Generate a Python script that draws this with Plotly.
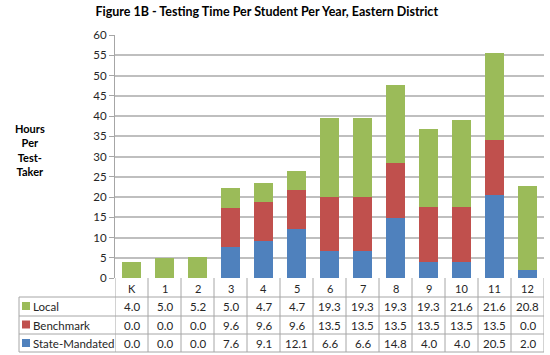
import plotly.graph_objects as go

grades = ["K", "1", "2", "3", "4", "5", "6", "7", "8", "9", "10", "11", "12"]
local = [4.0, 5.0, 5.2, 5.0, 4.7, 4.7, 19.3, 19.3, 19.3, 19.3, 21.6, 21.6, 20.8]
benchmark = [0.0, 0.0, 0.0, 9.6, 9.6, 9.6, 13.5, 13.5, 13.5, 13.5, 13.5, 13.5, 0.0]
state = [0.0, 0.0, 0.0, 7.6, 9.1, 12.1, 6.6, 6.6, 14.8, 4.0, 4.0, 20.5, 2.0]

series = [("State-Mandated", state, "#4F81BD"),
          ("Benchmark", benchmark, "#C0504D"),
          ("Local", local, "#9BBB59")]

W, H = 550, 355
L, R, T, B = 115, 544, 35, 278
FONT = "Lato"
TXT = "#262626"
GRID = "#BFBFBF"
BORDER = "#A6A6A6"

def py(p):
    return (B - p) / (B - T)

def px(p):
    return (p - L) / (R - L)

fig = go.Figure()
for name, vals, col in series:
    fig.add_bar(x=grades, y=vals, name=name, marker=dict(color=col, line=dict(width=0)), width=0.6)

shapes = []
annotations = []
row_lines = [297, 316, 334, 352]
row_centers = {"hdr": 288, "Local": 306.5, "Benchmark": 325, "State-Mandated": 343.5}
for yl in row_lines:
    shapes.append(dict(type="line", xref="paper", yref="paper", x0=px(19), x1=px(R), y0=py(yl), y1=py(yl),
                       line=dict(color=BORDER, width=1)))
shapes.append(dict(type="line", xref="paper", yref="paper", x0=px(19), x1=px(19), y0=py(297), y1=py(352),
                   line=dict(color=BORDER, width=1)))
for i in range(len(grades) + 1):
    shapes.append(dict(type="line", xref="x", yref="paper", x0=i - 0.5, x1=i - 0.5, y0=py(B), y1=py(352),
                       line=dict(color=BORDER, width=1)))

for i, g in enumerate(grades):
    annotations.append(dict(x=i, y=py(row_centers["hdr"]), xref="x", yref="paper", text=g, showarrow=False,
                            xanchor="center", yanchor="middle",
                            font=dict(family=FONT, size=11, color=TXT)))
rows = [("Local", local, "#9BBB59"), ("Benchmark", benchmark, "#C0504D"), ("State-Mandated", state, "#4F81BD")]
for name, vals, col in rows:
    yc = py(row_centers[name])
    for i, v in enumerate(vals):
        annotations.append(dict(x=i, y=yc, xref="x", yref="paper", text=f"{v:.1f}", showarrow=False,
                                xanchor="center", yanchor="middle",
                                font=dict(family=FONT, size=11.5, color=TXT)))
    annotations.append(dict(x=px(31), y=yc, xref="paper", yref="paper", text=name, showarrow=False,
                            xanchor="left", yanchor="middle", font=dict(family=FONT, size=11.5, color=TXT)))
    hs = 3.5
    shapes.append(dict(type="rect", xref="paper", yref="paper", x0=px(22), x1=px(30),
                       y0=py(row_centers[name] + hs), y1=py(row_centers[name] - hs - 1),
                       fillcolor=col, line=dict(width=0)))

annotations.append(dict(x=px(30), y=py(150), xref="paper", yref="paper",
                        text="<b>Hours<br>Per<br>Test-<br>Taker</b>", showarrow=False,
                        xanchor="center", yanchor="middle",
                        font=dict(family=FONT, size=11, color="#000000"), align="center"))

fig.update_layout(
    barmode="stack",
    width=W, height=H,
    margin=dict(l=L, r=W - R, t=T, b=H - B),
    paper_bgcolor="white", plot_bgcolor="white",
    showlegend=False,
    title=dict(text="<b>Figure 1B - Testing Time Per Student Per Year, Eastern District</b>",
               x=0.485, xref="container", xanchor="center", y=1 - 12 / H, yref="container", yanchor="middle",
               font=dict(family=FONT, size=12.5, color="#000000")),
    xaxis=dict(showticklabels=False, ticks="", showline=False, showgrid=False, range=[-0.5, 12.5]),
    yaxis=dict(range=[0, 60], dtick=5, showgrid=True, gridcolor=GRID, gridwidth=1.5,
               showline=True, linecolor=BORDER, linewidth=1, ticks="outside", ticklen=5, tickcolor=BORDER,
               tickfont=dict(family=FONT, size=11.5, color=TXT), zeroline=False),
    shapes=shapes, annotations=annotations,
)
fig.write_html("out.html", config={"displayModeBar": False},
               post_script="document.body.style.margin='0';document.body.style.overflow='hidden';")
